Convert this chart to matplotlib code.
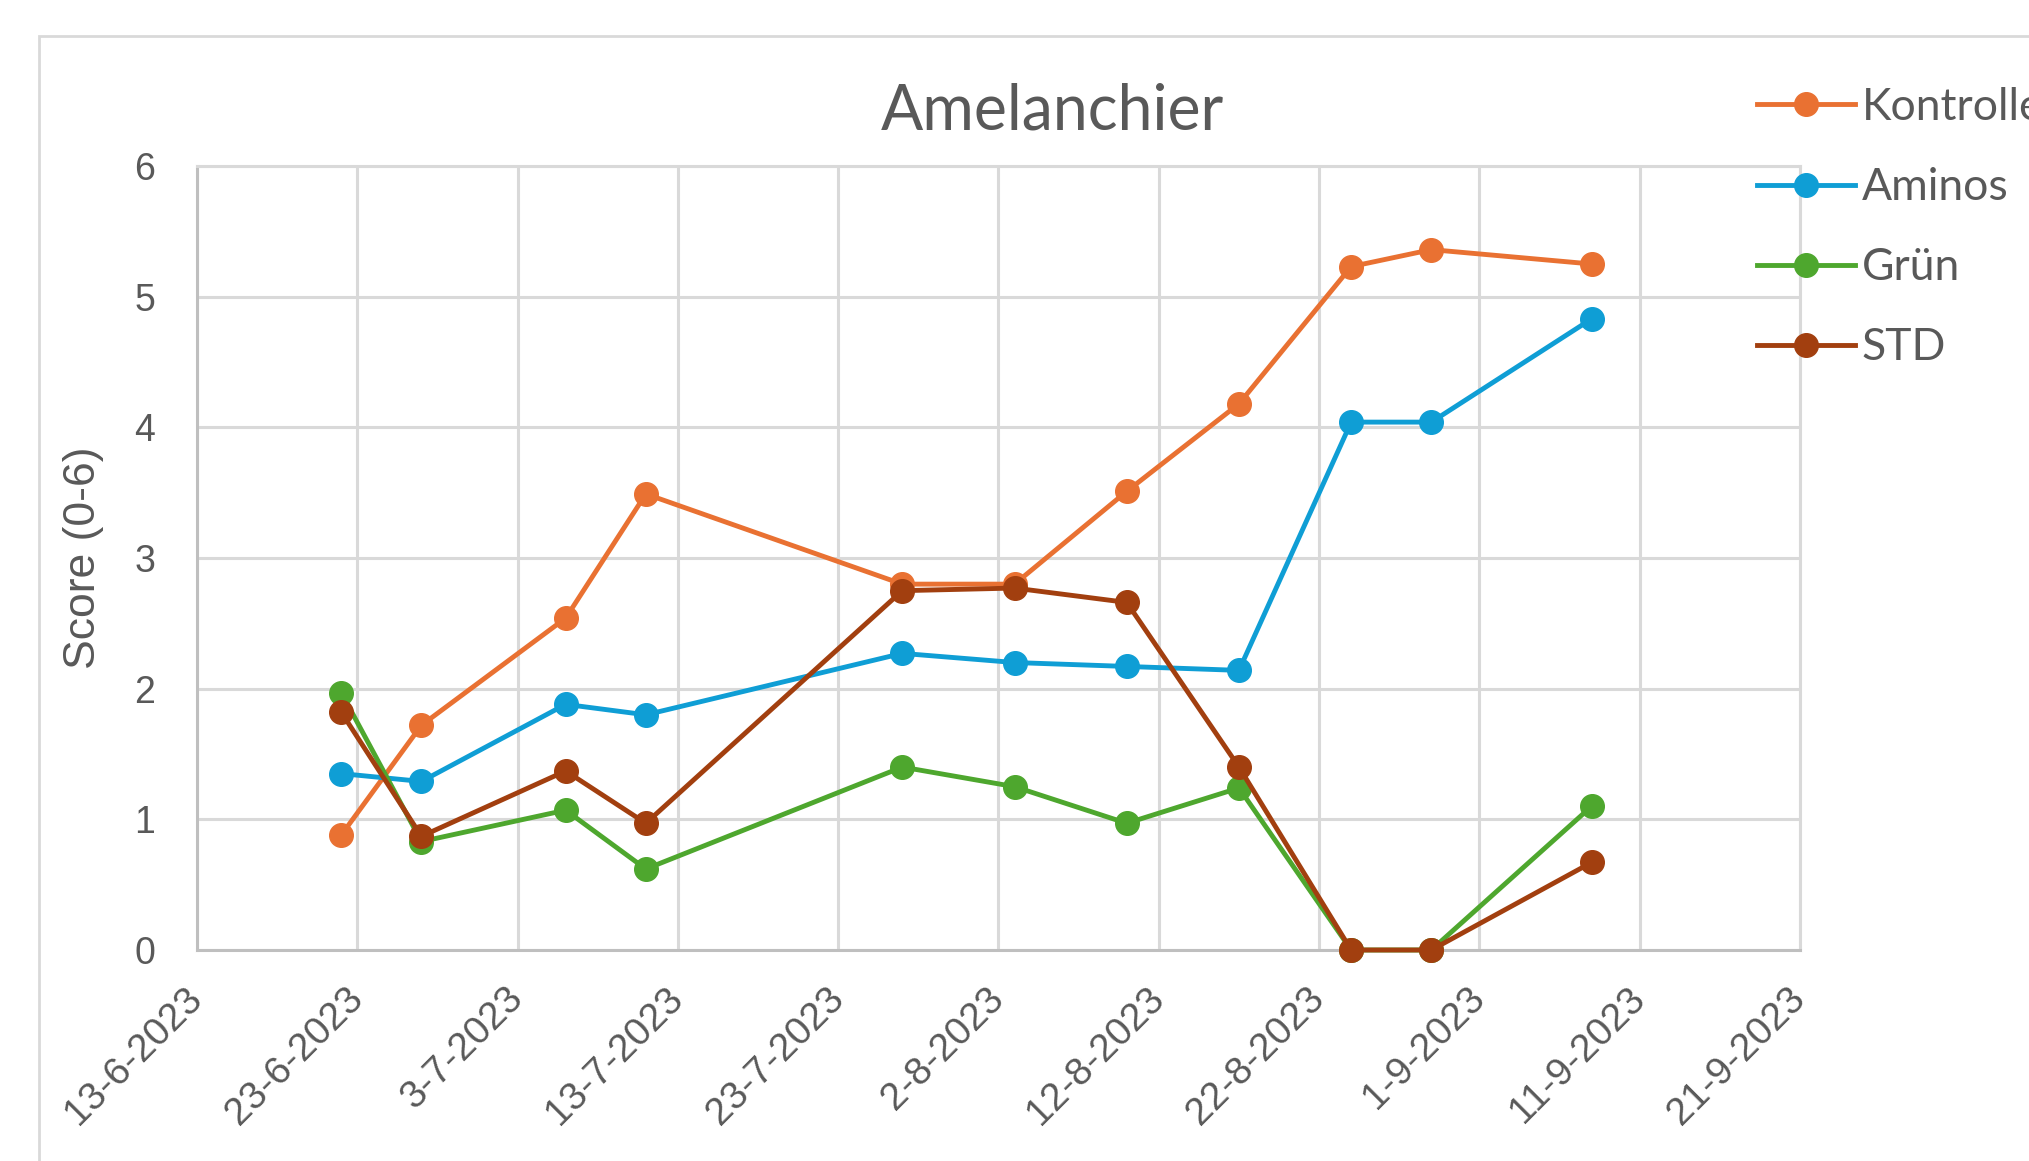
import matplotlib
matplotlib.use("Agg")
import matplotlib.pyplot as plt
from matplotlib.patches import Rectangle
import datetime as dt

# ---- data ----
dates = ["2023-06-22", "2023-06-27", "2023-07-06", "2023-07-11", "2023-07-27",
         "2023-08-03", "2023-08-10", "2023-08-17", "2023-08-24", "2023-08-29", "2023-09-08"]
kontrolle = [0.88, 1.72, 2.54, 3.49, 2.80, 2.80, 3.51, 4.18, 5.23, 5.36, 5.25]
aminos    = [1.35, 1.29, 1.88, 1.80, 2.27, 2.20, 2.17, 2.14, 4.04, 4.04, 4.83]
gruen     = [1.97, 0.83, 1.07, 0.62, 1.40, 1.25, 0.97, 1.24, 0.00, 0.00, 1.10]
std       = [1.82, 0.87, 1.37, 0.97, 2.75, 2.77, 2.66, 1.40, 0.00, 0.00, 0.67]
series_names = ["Kontrolle", "Aminos", "Grün", "STD"]
tick_dates = ["2023-06-13", "2023-06-23", "2023-07-03", "2023-07-13", "2023-07-23",
              "2023-08-02", "2023-08-12", "2023-08-22", "2023-09-01", "2023-09-11", "2023-09-21"]
tick_labels = ["13-6-2023", "23-6-2023", "3-7-2023", "13-7-2023", "23-7-2023",
               "2-8-2023", "12-8-2023", "22-8-2023", "1-9-2023", "11-9-2023", "21-9-2023"]
title = "Amelanchier"
ylabel = "Score (0-6)"

colors = ["#E97132", "#0F9ED5", "#4EA72E", "#A23F0F"]

x = [dt.datetime.strptime(d, "%Y-%m-%d") for d in dates]
xt = [dt.datetime.strptime(d, "%Y-%m-%d") for d in tick_dates]

W, H = 2029, 1161
fig = plt.figure(figsize=(W / 100, H / 100), dpi=100)
fig.patch.set_facecolor("white")

# outer chart border
fig.patches.append(Rectangle((39 / W, -0.2), 2.0, 1 - 36 / H + 0.2,
                             transform=fig.transFigure, fill=False,
                             edgecolor="#D9D9D9", linewidth=2.0, zorder=0))

ax = fig.add_axes([197 / W, 1 - 950 / H, (1800 - 197) / W, (950 - 166) / H])

for vals, name, c, z in zip([kontrolle, aminos, gruen, std], series_names, colors, [3, 4, 5, 6]):
    ax.plot(x, vals, color=c, lw=3.5, marker="o", ms=17, label=name,
            clip_on=False, zorder=z)

ax.set_xlim(xt[0], xt[-1])
ax.set_ylim(0, 6)
ax.set_yticks(range(0, 7))
ax.set_xticks(xt)
ax.set_xticklabels(tick_labels, rotation=45, ha="right", va="center",
                   rotation_mode="anchor", family="Liberation Sans",
                   fontsize=28, color="#595959")
for lab in ax.get_yticklabels():
    lab.set_family("Liberation Sans")
ax.tick_params(axis="y", length=0, pad=30, labelsize=27, labelcolor="#595959")
ax.tick_params(axis="x", length=0, pad=31)

ax.grid(True, color="#D9D9D9", lw=2.2)
ax.set_axisbelow(True)
for s in ax.spines.values():
    s.set_color("#D9D9D9")
    s.set_linewidth(2.2)
ax.spines["left"].set_color("#BFBFBF")
ax.spines["bottom"].set_color("#BFBFBF")

ax.set_ylabel(ylabel, family="Liberation Sans", fontsize=32, color="#595959")
ax.yaxis.set_label_coords(-0.058, 0.5)

fig.text(1052 / W, 1 - 112 / H, title, ha="center", va="center",
         family="Lato", fontsize=45, color="#595959")

leg = fig.legend(loc="upper left", bbox_to_anchor=(1757 / W, 1 - 87 / H),
                 frameon=False, borderpad=0, borderaxespad=0,
                 handlelength=2.2, handletextpad=0.15, labelspacing=0.88,
                 prop={"family": "Lato", "size": 32})
for t in leg.get_texts():
    t.set_color("#595959")

fig.savefig("out.png", dpi=100, facecolor="white")
